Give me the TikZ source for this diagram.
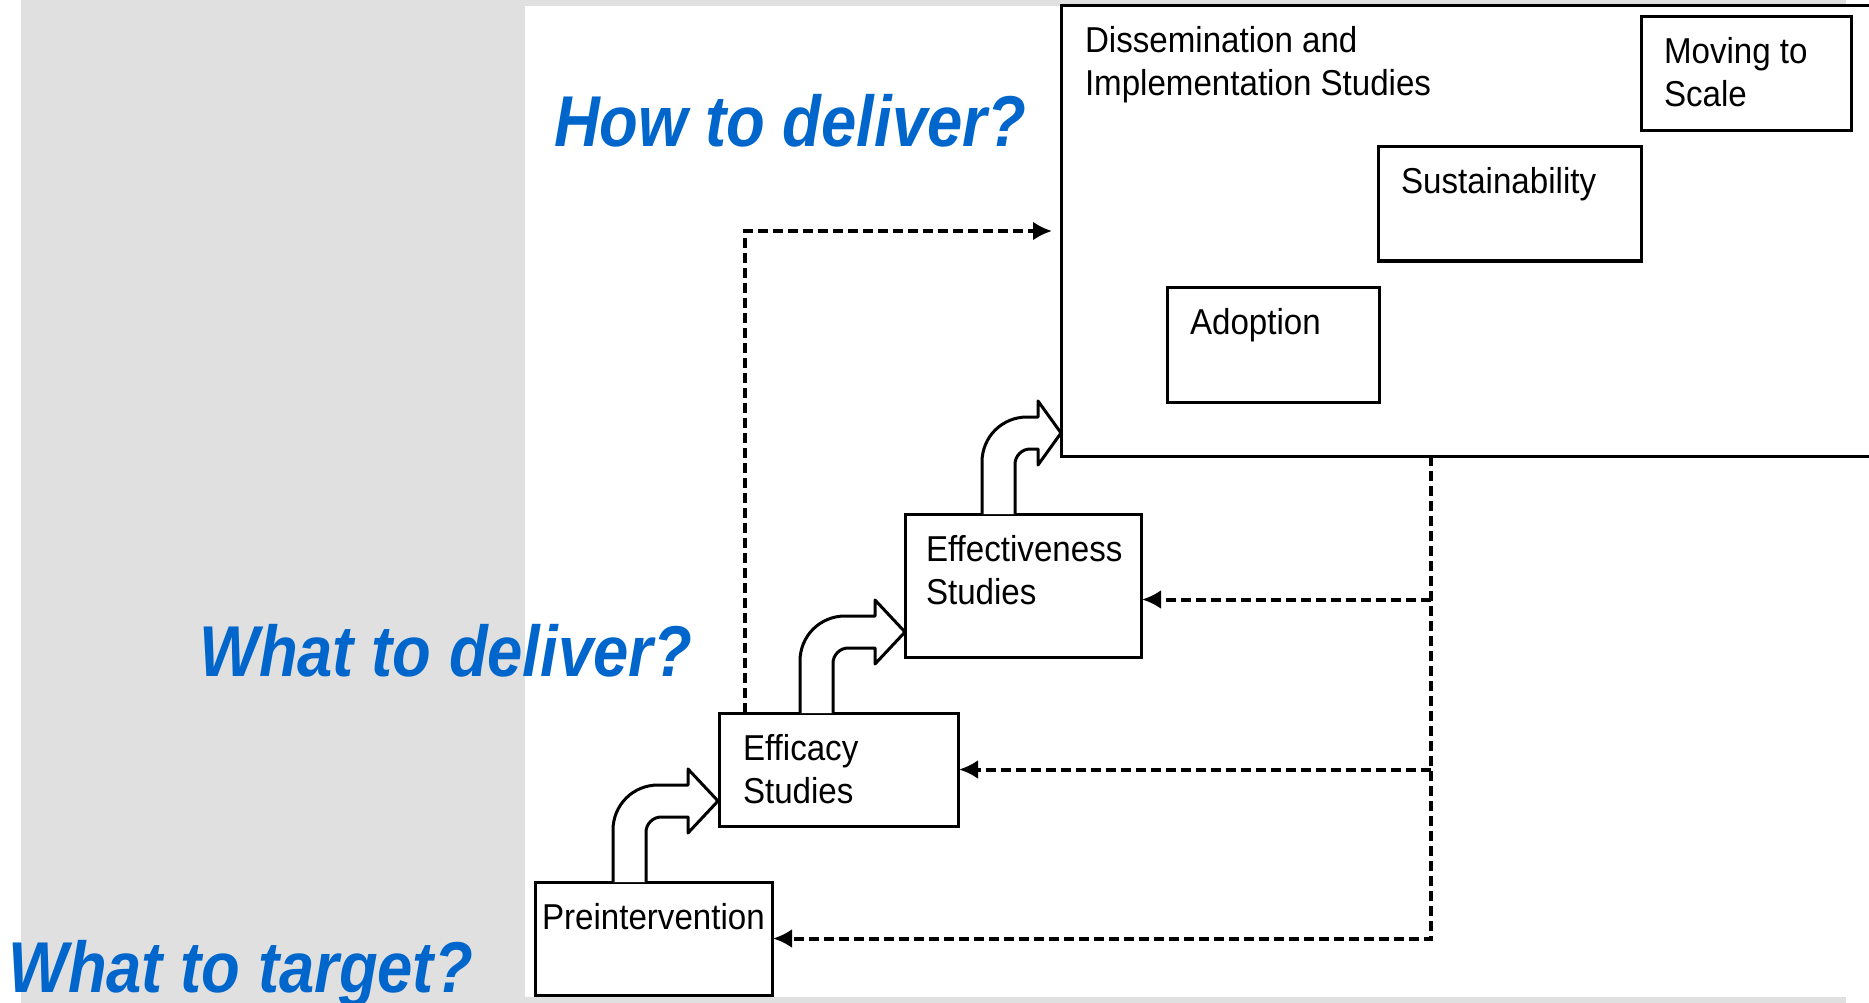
\documentclass[tikz,border=0pt]{standalone}
\usepackage{fontspec}
\setmainfont{Liberation Sans}
\newfontfamily\boxfont[FakeStretch=0.92]{Liberation Sans}
\newfontfamily\qfont[FakeStretch=0.88]{Liberation Sans}
\usetikzlibrary{arrows.meta,calc}
\definecolor{bggray}{RGB}{224,224,224}
\definecolor{qblue}{RGB}{0,102,204}
\newcommand{\boxtext}[4]{\parbox[c][#2][t]{#1}{\raggedright\leftskip=#3\relax\rule{0pt}{47pt}#4\par}}
\newcommand{\bentarrow}[3]{%
  \filldraw[blockarrow] (#1) -- ++(0,-52)
    .. controls +(0,-25) and +(-25,0) .. ++(45,-45)
    -- ++({#2-45},0) -- ++(0,-16) -- ++(#3,32) -- ++({-#3},32) -- ++(0,-16)
    -- ++({48-#2},0)
    .. controls +(-8,0) and +(0,-8) .. ++(-15,15)
    -- ++(0,50);}
\begin{document}
\begin{tikzpicture}[x=1pt,y=-1pt,
  box/.style={draw, line width=3pt, fill=white, inner sep=0pt, outer sep=0pt,
    anchor=north west, font=\boxfont\fontsize{36pt}{43pt}\selectfont},
  q/.style={font=\qfont\bfseries\itshape\fontsize{72pt}{72pt}\selectfont,
    text=qblue, anchor=base west, inner sep=0pt},
  fbline/.style={draw, line width=4pt, dash pattern=on 10pt off 5pt,
    -{Latex[length=19pt,width=19pt]}, shorten >=1pt},
  blockarrow/.style={draw, fill=white, line width=3pt, line join=round}]
\clip (0,0) rectangle (1869,1003);
% background
\fill[bggray] (21,0) rectangle (1846,1003);
\fill[white] (525,6) rectangle (1869,997);
% boxes
\node[box] (dis) at (1061,6) {\boxtext{900pt}{450pt}{24pt}{Dissemination and\\Implementation Studies}};
\node[box] (mov) at (1641,17) {\boxtext{210pt}{114pt}{23pt}{Moving to\\Scale}};
\node[box] (sus) at (1378,147) {\boxtext{263pt}{114pt}{23pt}{Sustainability}};
\node[box] (ado) at (1167,287) {\boxtext{212pt}{115pt}{23pt}{Adoption}};
\node[box] (eff) at (905,514) {\boxtext{236pt}{143pt}{21pt}{Effectiveness\\Studies}};
\node[box] (eca) at (719,713) {\boxtext{239pt}{113pt}{24pt}{Efficacy\\Studies}};
\node[box] (pre) at (535,882) {\boxtext{237pt}{113pt}{7pt}{Preintervention}};
% feedback dashed connectors
\coordinate (fb) at ($(dis.south west)+(370,0)$);
\coordinate (effin) at ([yshift=-14pt]eff.east);
\draw[fbline] (fb) -- (fb |- pre.east) -- (pre.east);
\draw[fbline] (fb |- eca.east) -- (eca.east);
\draw[fbline] (fb |- effin) -- (effin);
\draw[fbline, shorten >=9pt] ($(eca.north west)+(26,0)$) |- (dis.west);
% bent block arrows
\bentarrow{$(pre.north west)+(78,0)$}{75}{30}
\bentarrow{$(eca.north west)+(81,0)$}{75}{30}
\bentarrow{$(eff.north west)+(77,0)$}{56}{23}
% questions
\node[q] (qhow) at (554,147) {How to deliver?};
\node[q] (qwhat) at (199,676) {What to deliver?};
\node[q] (qtarget) at (8,992) {What to target?};
\end{tikzpicture}
\end{document}
